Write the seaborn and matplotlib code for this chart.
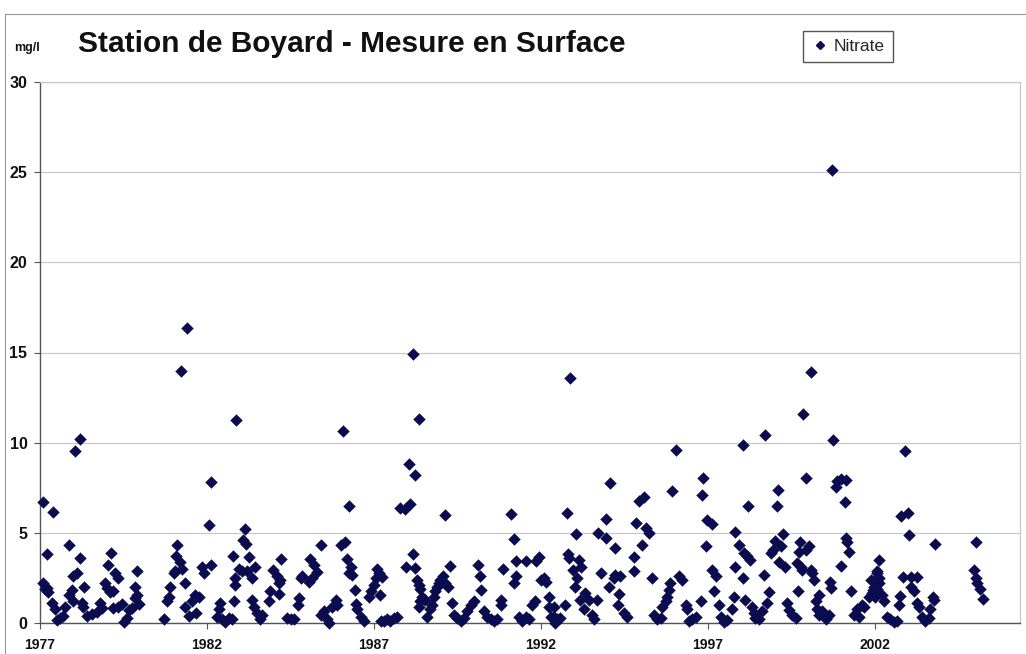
import matplotlib
matplotlib.use("Agg")
import matplotlib.pyplot as plt
from matplotlib.lines import Line2D
import pandas as pd
import seaborn as sns

# (decimal year, nitrate mg/l), grouped by 5-year block
block_1977 = [
    (1977.09, 6.7), (1977.40, 6.15), (1977.10, 2.2), (1977.15, 1.9), (1977.20, 3.8),
    (1977.20, 1.95), (1977.25, 1.7), (1977.35, 1.1), (1977.46, 0.8), (1977.50, 0.15),
    (1977.60, 0.3), (1977.70, 0.4), (1977.76, 0.9), (1977.86, 1.55), (1977.88, 4.3),
    (1977.97, 1.85), (1978.00, 2.6), (1978.00, 1.2), (1978.05, 9.55), (1978.10, 2.8),
    (1978.19, 3.6), (1978.20, 10.2), (1978.26, 1.1), (1978.30, 0.9), (1978.33, 2.0),
    (1978.40, 0.4), (1978.55, 0.5), (1978.70, 0.6), (1978.80, 1.1), (1978.85, 0.85),
    (1978.95, 2.2), (1979.00, 1.95), (1979.05, 3.2), (1979.10, 1.7), (1979.12, 3.9),
    (1979.20, 1.8), (1979.20, 0.85), (1979.25, 2.8), (1979.35, 2.5), (1979.35, 0.9),
    (1979.45, 1.05), (1979.50, 0.05), (1979.60, 0.3), (1979.65, 0.7), (1979.75, 0.85),
    (1979.85, 2.0), (1979.85, 1.4), (1979.90, 1.55), (1979.90, 2.9), (1979.95, 1.05),
    (1980.70, 0.2), (1980.80, 1.2), (1980.85, 1.45), (1980.90, 2.0), (1981.00, 2.8),
    (1981.05, 2.9), (1981.07, 3.7), (1981.10, 4.3), (1981.20, 3.4), (1981.22, 13.95),
    (1981.25, 3.0), (1981.35, 2.2), (1981.35, 0.9), (1981.40, 16.35), (1981.45, 0.4),
    (1981.55, 1.2), (1981.65, 1.55), (1981.67, 0.55), (1981.75, 1.45), (1981.85, 3.1),
    (1981.90, 2.8), (1982.05, 5.45), (1982.12, 7.8), (1982.12, 3.2),
]

block_1982 = [
    (1982.88, 11.25), (1982.77, 3.7), (1982.80, 1.2), (1982.83, 2.1), (1982.85, 2.5),
    (1982.95, 3.0), (1983.05, 2.9), (1983.07, 4.6), (1983.15, 5.2), (1983.17, 4.4),
    (1983.20, 2.9), (1983.27, 3.65), (1983.35, 2.5), (1983.35, 1.3), (1983.40, 0.9),
    (1983.45, 3.1), (1983.50, 0.55), (1983.60, 0.2), (1983.65, 0.45), (1982.40, 1.1),
    (1982.35, 0.75), (1982.30, 0.35), (1982.45, 0.2), (1982.55, 0.05), (1982.65, 0.3),
    (1982.75, 0.2), (1983.85, 1.2), (1983.90, 1.75), (1983.98, 2.95), (1984.10, 2.6),
    (1984.15, 2.2), (1984.17, 1.6), (1984.20, 2.4), (1984.23, 3.55), (1984.40, 0.3),
    (1984.50, 0.2), (1984.60, 0.2), (1984.73, 1.0), (1984.75, 1.4), (1984.80, 2.5),
    (1984.85, 2.6), (1985.05, 2.3), (1985.07, 3.55), (1985.15, 2.5), (1985.20, 3.2),
    (1985.30, 2.85), (1985.40, 4.3), (1985.40, 0.45), (1985.50, 0.65), (1985.60, 0.2),
    (1985.65, 0.02), (1985.75, 0.9), (1985.85, 1.3), (1985.90, 1.0), (1986.00, 4.3),
    (1986.08, 10.65), (1986.13, 4.5), (1986.18, 3.55), (1986.25, 6.5), (1986.25, 2.75),
    (1986.30, 3.1), (1986.35, 2.65), (1986.43, 1.85), (1986.45, 1.05), (1986.50, 0.8),
    (1986.60, 0.35), (1986.70, 0.1), (1986.85, 1.45), (1986.90, 1.75), (1987.00, 2.1),
    (1987.05, 2.5), (1987.10, 3.0), (1987.15, 2.75), (1987.20, 0.1),
]

block_1987 = [
    (1987.24, 2.55), (1987.19, 1.55), (1987.29, 0.1), (1987.39, 0.2), (1987.49, 0.1),
    (1987.59, 0.3), (1987.69, 0.35), (1987.79, 6.4), (1987.94, 6.3), (1987.97, 3.1),
    (1988.06, 8.8), (1988.09, 6.6), (1988.16, 14.9), (1988.17, 3.85), (1988.24, 8.2),
    (1988.24, 3.05), (1988.29, 2.4), (1988.34, 2.1), (1988.34, 0.9), (1988.36, 11.3),
    (1988.39, 1.9), (1988.39, 1.2), (1988.44, 1.45), (1988.54, 1.3), (1988.59, 0.35),
    (1988.69, 0.75), (1988.74, 1.0), (1988.79, 1.45), (1988.84, 1.75), (1988.89, 2.0),
    (1988.94, 2.2), (1988.99, 2.4), (1989.06, 2.6), (1989.12, 2.2), (1989.14, 6.0),
    (1989.22, 2.0), (1989.29, 3.15), (1989.34, 1.1), (1989.39, 0.45), (1989.49, 0.3),
    (1989.59, 0.1), (1989.69, 0.3), (1989.79, 0.65), (1989.89, 1.0), (1989.99, 1.2),
    (1990.12, 3.2), (1990.16, 2.6), (1990.19, 1.85), (1990.29, 0.65), (1990.39, 0.35),
    (1990.49, 0.2), (1990.59, 0.1), (1990.69, 0.2), (1990.79, 1.3), (1990.79, 1.0),
    (1990.86, 3.0), (1991.09, 6.05), (1991.19, 4.65), (1991.19, 2.2), (1991.24, 2.6),
    (1991.26, 3.45), (1991.34, 0.35), (1991.44, 0.1), (1991.54, 0.35), (1991.56, 3.45),
    (1991.64, 0.2), (1991.74, 1.0), (1991.82, 1.2), (1991.84, 3.45), (1991.94, 3.65),
    (1991.99, 2.4), (1992.09, 2.5), (1992.14, 2.3), (1992.24, 0.9), (1992.29, 0.35),
]

block_1992 = [
    (1992.23, 1.45), (1992.38, 0.9), (1992.38, 0.35), (1992.43, 0.02), (1992.48, 0.2),
    (1992.58, 0.3), (1992.71, 1.0), (1992.78, 6.1), (1992.81, 3.85), (1992.85, 3.6),
    (1992.88, 13.6), (1992.95, 2.95), (1993.01, 2.0), (1993.05, 4.95), (1993.08, 2.5),
    (1993.13, 3.5), (1993.18, 1.25), (1993.21, 3.1), (1993.28, 0.75), (1993.33, 1.65),
    (1993.43, 1.3), (1993.53, 0.45), (1993.58, 0.2), (1993.68, 1.3), (1993.71, 5.0),
    (1993.81, 2.75), (1993.95, 5.75), (1993.95, 4.7), (1994.03, 2.0), (1994.06, 7.75),
    (1994.18, 2.5), (1994.21, 4.15), (1994.23, 2.65), (1994.31, 1.0), (1994.33, 1.6),
    (1994.38, 2.6), (1994.48, 0.55), (1994.58, 0.35), (1994.78, 3.65), (1994.78, 2.9),
    (1994.85, 5.55), (1994.93, 6.75), (1995.03, 4.35), (1995.08, 7.0), (1995.13, 5.25),
    (1995.23, 5.0), (1995.33, 2.5), (1995.38, 0.45), (1995.48, 0.2), (1995.58, 0.3),
    (1995.63, 0.9), (1995.73, 1.2), (1995.78, 1.45), (1995.83, 1.85), (1995.85, 2.2),
    (1995.93, 7.3), (1996.05, 9.6), (1996.13, 2.6), (1996.23, 2.4), (1996.33, 1.0),
    (1996.38, 0.8), (1996.43, 0.1), (1996.53, 0.2), (1996.63, 0.35), (1996.78, 1.2),
    (1996.83, 7.1), (1996.86, 8.05), (1996.93, 4.25), (1996.98, 5.7), (1997.11, 5.5),
    (1997.13, 2.95), (1997.18, 1.75), (1997.23, 2.6), (1997.33, 1.0), (1997.38, 0.35),
]

block_1997 = [
    (1997.47, 0.05), (1997.57, 0.15), (1997.72, 0.8), (1997.79, 1.45), (1997.80, 5.05),
    (1997.82, 3.1), (1997.94, 4.35), (1998.04, 2.5), (1998.05, 9.85), (1998.07, 3.9),
    (1998.12, 1.3), (1998.17, 3.7), (1998.20, 6.5), (1998.27, 3.5), (1998.32, 0.9),
    (1998.37, 0.55), (1998.42, 0.3), (1998.52, 0.2), (1998.62, 0.65), (1998.67, 2.65),
    (1998.72, 10.4), (1998.77, 1.1), (1998.82, 1.7), (1998.90, 3.9), (1998.94, 4.05),
    (1999.02, 4.55), (1999.07, 6.5), (1999.10, 7.4), (1999.12, 3.4), (1999.20, 4.25),
    (1999.25, 4.95), (1999.32, 3.1), (1999.37, 1.1), (1999.44, 0.7), (1999.52, 0.45),
    (1999.62, 0.25), (1999.67, 3.35), (1999.70, 1.75), (1999.72, 3.95), (1999.74, 4.5),
    (1999.77, 3.1), (1999.82, 2.95), (1999.84, 11.6), (1999.92, 8.05), (1999.94, 4.05),
    (2000.02, 4.25), (2000.07, 13.9), (2000.07, 2.95), (2000.12, 2.75), (2000.17, 2.4),
    (2000.22, 1.2), (2000.27, 0.8), (2000.32, 1.55), (2000.32, 0.45), (2000.42, 0.65),
    (2000.52, 0.2), (2000.62, 0.45), (2000.64, 2.3), (2000.67, 1.95), (2000.71, 25.1),
    (2000.74, 10.15), (2000.82, 7.55), (2000.87, 7.85), (2000.97, 8.0), (2000.97, 3.15),
    (2001.10, 6.7), (2001.12, 4.7), (2001.14, 7.95), (2001.17, 4.5), (2001.22, 3.95),
    (2001.27, 1.75), (2001.37, 0.45), (2001.47, 0.75), (2001.52, 0.35), (2001.60, 1.0),
    (2001.67, 0.9), (2001.82, 1.45), (2001.87, 2.4), (2001.94, 1.85), (2002.02, 2.2),
    (2002.07, 2.75), (2002.12, 3.5), (2002.12, 2.2),
]

block_2002 = [
    (2002.01, 2.4), (2002.11, 2.5), (2001.96, 2.0), (2002.06, 1.9), (2001.91, 1.65),
    (2002.01, 1.45), (2002.21, 1.55), (2002.26, 1.2), (2002.06, 2.9), (2002.36, 0.35),
    (2002.46, 0.2), (2002.56, 0.05), (2002.66, 0.1), (2002.73, 1.0), (2002.76, 1.5),
    (2002.79, 5.95), (2002.83, 2.55), (2002.91, 9.55), (2002.99, 6.1), (2003.03, 4.9),
    (2003.09, 2.55), (2003.09, 2.0), (2003.16, 1.75), (2003.26, 2.55), (2003.26, 1.1),
    (2003.33, 0.9), (2003.41, 0.35), (2003.51, 0.1), (2003.61, 0.3), (2003.66, 0.75),
    (2003.73, 1.45), (2003.76, 1.3), (2003.81, 4.4), (2004.96, 2.95), (2005.01, 4.5),
    (2005.01, 2.5), (2005.06, 2.2), (2005.13, 1.9), (2005.23, 1.35),
]

year_ticks = [1977, 1982, 1987, 1992, 1997, 2002]
value_ticks = [0, 5, 10, 15, 20, 25, 30]

points = block_1977 + block_1982 + block_1987 + block_1992 + block_1997 + block_2002
df = pd.DataFrame(points, columns=["annee", "nitrate"])

sns.set_theme(style="white")
plt.rcParams["font.family"] = ["Liberation Sans", "DejaVu Sans"]

marker_color = "#0b0b4f"

fig = plt.figure(figsize=(10.26, 6.54), dpi=100)
ax = fig.add_axes([40 / 1026, 1 - 623 / 654, 980 / 1026, 541 / 654])

sns.scatterplot(
    data=df, x="annee", y="nitrate", ax=ax, marker="D", s=36,
    color=marker_color, edgecolor=marker_color, linewidth=0.3, legend=False,
    zorder=3, clip_on=False,
)

ax.set_xlim(1977, 1977 + 980 / 33.4)
ax.set_ylim(0, 30)
ax.set_xticks(year_ticks)
ax.set_yticks(value_ticks)
ax.set_xticklabels([str(y) for y in year_ticks], fontweight="bold", fontsize=10)
ax.set_yticklabels([str(v) for v in value_ticks], fontweight="bold", fontsize=11.5)
ax.set_xlabel("")
ax.set_ylabel("")
ax.grid(axis="y", color="#c8c8c8", linewidth=0.9)
ax.grid(axis="x", visible=False)
ax.tick_params(axis="both", length=4, width=0.8, color="#555555",
               bottom=True, left=True, labelcolor="#111111")
ax.tick_params(axis="x", pad=7)
ax.tick_params(axis="y", pad=5)

for side in ["left", "bottom"]:
    ax.spines[side].set_color("#555555")
    ax.spines[side].set_linewidth(1.0)
for side in ["top", "right"]:
    ax.spines[side].set_color("#c8c8c8")
    ax.spines[side].set_linewidth(0.9)

# texts around the plot
fig.text(14 / 1026, 1 - 48 / 654, "mg/l", fontsize=9, fontweight="bold",
         va="center", ha="left", color="#111111")
fig.text(78 / 1026, 1 - 44 / 654, "Station de Boyard - Mesure en Surface",
         fontsize=21.5, fontweight="bold", va="center", ha="left", color="#111111")

handle = Line2D([], [], marker="D", linestyle="none", color=marker_color,
                markersize=4.5)
fig.legend([handle], ["Nitrate"], loc="center", bbox_to_anchor=(848 / 1026, 1 - 46.5 / 654),
           frameon=True, fancybox=False, edgecolor="#555555", framealpha=1,
           fontsize=12.5, handletextpad=0.3, borderpad=0.45, handlelength=1.0,
           borderaxespad=0)

# outer chart border
fig.add_artist(Line2D([5 / 1026, 1], [1 - 14 / 654, 1 - 14 / 654],
                      color="#9a9a9a", linewidth=0.8))
fig.add_artist(Line2D([5 / 1026, 5 / 1026], [0, 1 - 14 / 654],
                      color="#9a9a9a", linewidth=0.8))

fig.savefig("out.png", dpi=100)
plt.close(fig)
